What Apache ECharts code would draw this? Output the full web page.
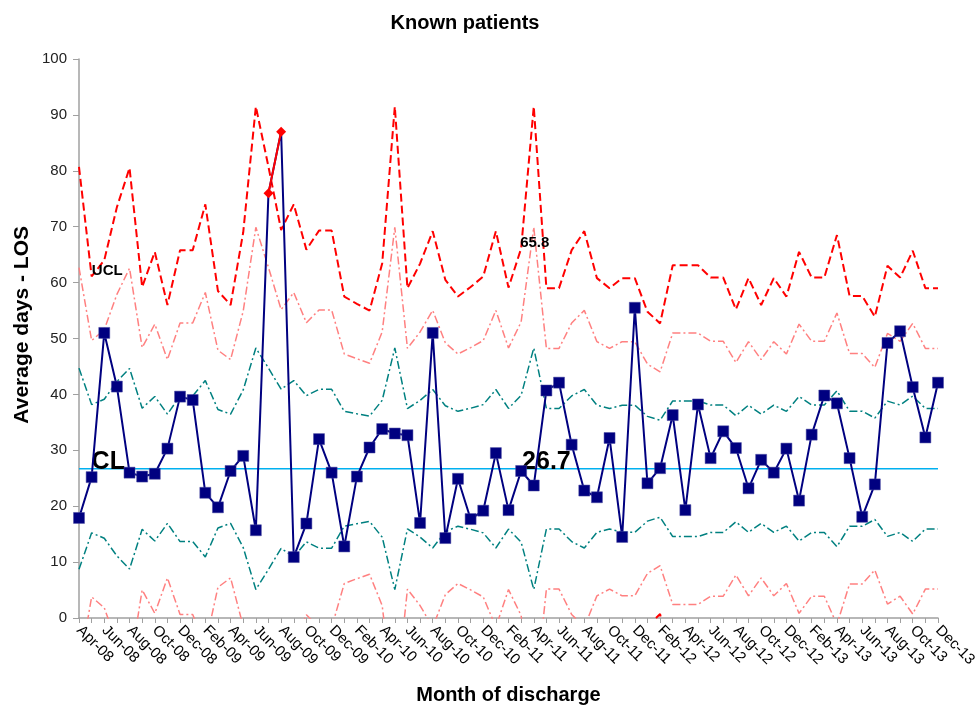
<!DOCTYPE html>
<html>
<head>
<meta charset="utf-8">
<script src="https://cdn.jsdelivr.net/npm/echarts@6/dist/echarts.min.js"></script>
<style>
html,body{margin:0;padding:0;background:#fff;width:100%;height:100%;overflow:hidden;}
#chart{width:976px;height:707px;}
</style>
</head>
<body>
<div id="chart"></div>
<script>
// ---- Data ----
const months = ['Apr-08','May-08','Jun-08','Jul-08','Aug-08','Sep-08','Oct-08','Nov-08','Dec-08',
  'Jan-09','Feb-09','Mar-09','Apr-09','May-09','Jun-09','Jul-09','Aug-09','Sep-09','Oct-09','Nov-09','Dec-09',
  'Jan-10','Feb-10','Mar-10','Apr-10','May-10','Jun-10','Jul-10','Aug-10','Sep-10','Oct-10','Nov-10','Dec-10',
  'Jan-11','Feb-11','Mar-11','Apr-11','May-11','Jun-11','Jul-11','Aug-11','Sep-11','Oct-11','Nov-11','Dec-11',
  'Jan-12','Feb-12','Mar-12','Apr-12','May-12','Jun-12','Jul-12','Aug-12','Sep-12','Oct-12','Nov-12','Dec-12',
  'Jan-13','Feb-13','Mar-13','Apr-13','May-13','Jun-13','Jul-13','Aug-13','Sep-13','Oct-13','Nov-13','Dec-13'];

// Average length of stay per month
const losValues = [17.9,25.2,51.0,41.4,26.0,25.3,25.8,30.3,39.6,
  39.0,22.4,19.8,26.3,29.0,15.7,76.0,87.0,10.9,16.9,32.0,26.0,
  12.8,25.3,30.5,33.8,33.0,32.7,17.0,51.0,14.3,24.9,17.7,19.2,
  29.5,19.3,26.3,23.7,40.7,42.1,31.0,22.8,21.6,32.2,14.5,55.5,
  24.1,26.8,36.3,19.3,38.2,28.6,33.4,30.4,23.2,28.3,26.0,30.3,
  21.0,32.8,39.8,38.4,28.6,18.1,23.9,49.2,51.3,41.3,32.3,42.1];

// Upper control limit (3 sigma) per month
const uclValues = [80.7,61.1,64.0,73.5,80.5,59.2,65.5,56.0,65.8,
  65.8,74.0,58.5,56.0,69.0,91.5,80.7,69.4,74.0,65.9,69.3,69.3,
  57.5,56.2,55.0,63.4,91.5,59.0,63.4,69.2,60.5,57.5,59.2,61.1,
  69.2,59.1,66.1,91.5,59.0,59.0,65.8,69.2,60.8,59.0,60.8,60.8,
  54.8,52.7,63.1,63.1,63.1,60.9,60.9,55.2,60.8,56.0,60.8,57.5,
  65.5,60.9,60.9,68.5,57.6,57.6,53.9,63.0,60.9,65.7,59.0,59.0];

// Points flagged out of control (indices shown in red)
const flaggedIdx = [15, 16];

const centerLine = 26.7;
const yTicks = {min: 0, max: 100, step: 10};

// ---- Derived control-chart lines: CL +/- k*sigma ----
const sigma = uclValues.map(u => (u - centerLine) / 3);
const lim = k => sigma.map(s => +(centerLine + k * s).toFixed(2));
const clLine = months.map(() => centerLine);
const flaggedSeries = losValues.map((v, i) => flaggedIdx.includes(i) ? v : null);
const mainData = losValues.map((v, i) => flaggedIdx.includes(i)
  ? {value: v, symbol: 'none'} : v);

const FONT = 'Arial, "Liberation Sans", sans-serif';
const dashDot = [8, 3, 2, 3];

const chart = echarts.init(document.getElementById('chart'), null, {renderer: 'canvas'});
const limitSeries = (name, data, color, type, width) => ({
  name, type: 'line', data, symbol: 'none', silent: true, z: 2,
  lineStyle: {color, width, type}, clip: true
});

chart.setOption({
  animation: false,
  backgroundColor: '#fff',
  title: {
    text: 'Known patients', left: 460, top: 8, textAlign: 'center',
    textStyle: {fontFamily: FONT, fontSize: 20, fontWeight: 'bold', color: '#000'}
  },
  grid: {left: 79, right: 38, top: 59, bottom: 89, containLabel: false, outerBoundsMode: 'none'},
  xAxis: {
    type: 'category', data: months, boundaryGap: false,
    name: 'Month of discharge', nameLocation: 'middle', nameGap: 67,
    nameTextStyle: {fontFamily: FONT, fontSize: 20, fontWeight: 'bold', color: '#000'},
    axisLine: {lineStyle: {color: '#a0a0a0', width: 1.5}},
    axisTick: {show: true, interval: 0, length: 5, lineStyle: {color: '#a0a0a0'}},
    axisLabel: {interval: 1, rotate: -45, margin: 10, fontFamily: FONT, fontSize: 15, color: '#000'},
    splitLine: {show: false}
  },
  yAxis: {
    type: 'value', min: yTicks.min, max: yTicks.max, interval: yTicks.step,
    axisLine: {show: true, lineStyle: {color: '#a0a0a0', width: 1.5}},
    axisTick: {show: true, length: 6, lineStyle: {color: '#a0a0a0'}},
    axisLabel: {margin: 12, fontFamily: FONT, fontSize: 15, color: '#222'},
    splitLine: {show: false}
  },
  graphic: [{
    type: 'text', left: 12, top: 226,
    style: {text: 'Average days - LOS', font: 'bold 21px ' + FONT, fill: '#000'},
    rotation: Math.PI / 2
  }],
  series: [
    {
      name: 'CL', type: 'line', data: clLine, symbol: 'none', z: 3,
      lineStyle: {color: '#00B0F0', width: 1.5},
      markPoint: {
        symbol: 'circle', symbolSize: 0, silent: true,
        label: {show: true, position: 'inside', fontFamily: FONT, fontWeight: 'bold', color: '#000'},
        data: [
          {coord: [2, 27.9], label: {formatter: 'CL', fontSize: 25, offset: [4, 0]}},
          {coord: [37, 27.9], label: {formatter: '26.7', fontSize: 25, offset: [0, 0]}},
          {coord: [2, 62.1], label: {formatter: 'UCL', fontSize: 15, offset: [3, 0]}},
          {coord: [36, 67.1], label: {formatter: '65.8', fontSize: 15, offset: [1, 0]}}
        ]
      }
    },
    limitSeries('UCL', lim(3), '#FF0000', [8, 4], 2),
    limitSeries('+2 sigma', lim(2), '#FF8080', dashDot, 1.5),
    limitSeries('+1 sigma', lim(1), '#008080', dashDot, 1.5),
    limitSeries('-1 sigma', lim(-1), '#008080', dashDot, 1.5),
    limitSeries('-2 sigma', lim(-2), '#FF8080', dashDot, 1.5),
    limitSeries('LCL', lim(-3), '#FF0000', [8, 4], 2),
    {
      name: 'LOS', type: 'line', data: mainData, z: 5,
      symbol: 'rect', symbolSize: 11, showSymbol: true, showAllSymbol: true,
      itemStyle: {color: '#000080', borderColor: '#4a4aa0', borderWidth: 0.5},
      lineStyle: {color: '#000080', width: 2}
    },
    {
      name: 'Out of control', type: 'line', data: flaggedSeries, z: 6,
      symbol: 'diamond', symbolSize: 10, showSymbol: true, showAllSymbol: true,
      connectNulls: false,
      itemStyle: {color: '#FF0000'},
      lineStyle: {color: '#FF0000', width: 2}
    }
  ]
});
</script>
</body>
</html>
